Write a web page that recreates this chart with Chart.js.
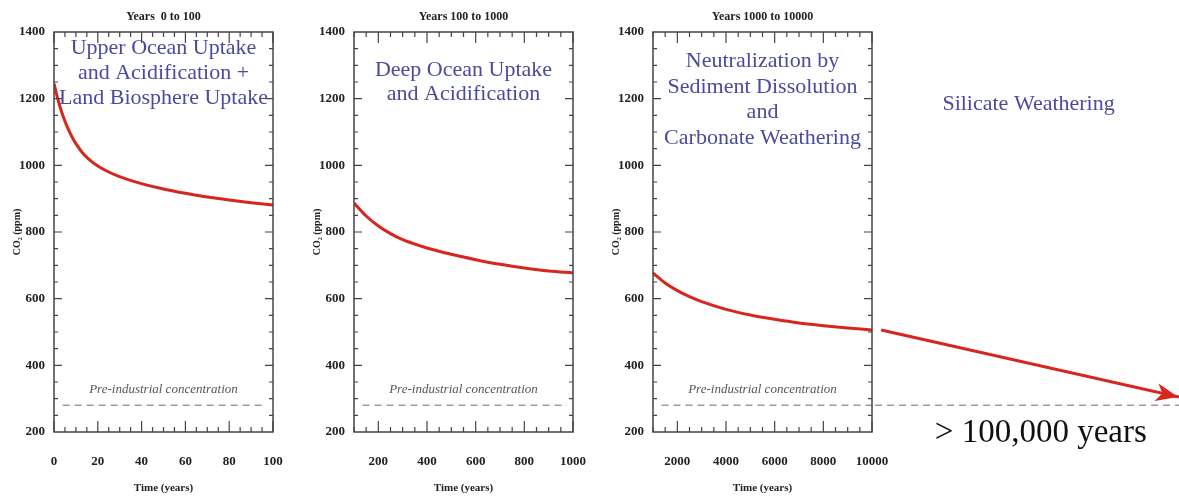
<!DOCTYPE html>
<html lang="en">
<head>
<meta charset="UTF-8">
<title>CO2 recovery timescales</title>
<script src="https://cdn.jsdelivr.net/npm/chart.js"></script>
<style>
    body { margin: 0; background: #fff; }
    #wrap { position: relative; width: 1179px; height: 496px; overflow: hidden; }
    canvas { position: absolute; top: 0; }
</style>
</head>
<body>
<div id="wrap">
    <canvas id="panel1" width="300" height="496" style="left:0px"></canvas>
    <canvas id="panel2" width="300" height="496" style="left:300px"></canvas>
    <canvas id="panel3" width="300" height="496" style="left:599px"></canvas>
    <canvas id="panel4" width="307" height="496" style="left:872px"></canvas>
</div>
<script>
    // values (ppm)
    const years1 = [0, 1, 2, 3, 4, 6, 8, 10, 13, 16, 20, 25, 30, 40, 50, 60, 70, 80, 90, 100];
    const co2_1 = [1245, 1218, 1193, 1170, 1150, 1116, 1088, 1065, 1038, 1018, 998, 980, 966, 945, 929, 916, 905, 896, 888, 881];

    const years2 = [100, 150, 200, 250, 300, 400, 500, 600, 700, 800, 900, 1000];
    const co2_2 = [887, 848, 818, 795, 777, 752, 733, 717, 703, 692, 683, 677];

    const years3 = [1000, 1500, 2000, 2500, 3000, 4000, 5000, 6000, 7000, 8000, 9000, 10000];
    const co2_3 = [677, 647, 624, 606, 591, 568, 551, 538, 527, 519, 512, 506];

    // schematic long tail (arbitrary x units)
    const arrowX = [3, 100];
    const arrowCO2 = [506, 305];

    const preIndustrial = 280;
    const preSpan1 = [4, 97];
    const preSpan2 = [135, 975];
    const preSpan3 = [1350, 10000];
    const preSpan4 = [1, 100];

    const yTicks = [200, 400, 600, 800, 1000, 1200, 1400];
    const xTicks1 = [0, 20, 40, 60, 80, 100];
    const xTicks2 = [200, 400, 600, 800, 1000];
    const xTicks3 = [2000, 4000, 6000, 8000, 10000];

    const titles = ['Years  0 to 100', 'Years 100 to 1000', 'Years 1000 to 10000'];
    const notes1 = ['Upper Ocean Uptake', 'and Acidification +', 'Land Biosphere Uptake'];
    const notes2 = ['Deep Ocean Uptake', 'and Acidification'];
    const notes3 = ['Neutralization by', 'Sediment Dissolution', 'and', 'Carbonate Weathering'];
    const notes4 = ['Silicate Weathering'];
    const preLabel = 'Pre-industrial concentration';
    const tailLabel = '> 100,000 years';

    const serif = '"Liberation Serif", "Times New Roman", serif';
    const red = '#d6261d';
    const blue = '#4a4a9e';
    const ink = '#222';

    const framePlugin = {
        id: 'frame',
        afterDatasetsDraw(chart, args, opts) {
            const {ctx, chartArea: a, scales: {x, y}} = chart;
            ctx.save();
            ctx.strokeStyle = '#444';
            ctx.lineWidth = 1.5;
            ctx.strokeRect(a.left, a.top, a.right - a.left, a.bottom - a.top);
            ctx.lineWidth = 1.2;
            ctx.beginPath();
            for (let v = Math.ceil(x.min / opts.minorX) * opts.minorX; v <= x.max; v += opts.minorX) {
                const px = x.getPixelForValue(v);
                const len = v % opts.majorX === 0 ? 11 : 5;
                ctx.moveTo(px, a.bottom); ctx.lineTo(px, a.bottom - len);
                ctx.moveTo(px, a.top); ctx.lineTo(px, a.top + len);
            }
            for (let v = 250; v < 1400; v += 50) {
                const py = y.getPixelForValue(v);
                const len = v % 200 === 0 ? 8 : 4;
                ctx.moveTo(a.left, py); ctx.lineTo(a.left + len, py);
                ctx.moveTo(a.right, py); ctx.lineTo(a.right - len, py);
            }
            ctx.stroke();
            ctx.restore();
        }
    };

    const notesPlugin = {
        id: 'notes',
        afterDraw(chart, args, opts) {
            const {ctx, scales: {x, y}} = chart;
            ctx.save();
            ctx.textAlign = 'center';
            ctx.textBaseline = 'alphabetic';
            opts.items.forEach(it => {
                ctx.font = it.font;
                ctx.fillStyle = it.color;
                const cx = x.getPixelForValue(it.x);
                it.lines.forEach((t, i) => {
                    ctx.fillText(t, cx, y.getPixelForValue(it.y) + i * it.step);
                });
            });
            ctx.restore();
        }
    };

    const arrowPlugin = {
        id: 'arrowHead',
        afterDatasetsDraw(chart) {
            const pts = chart.getDatasetMeta(0).data;
            if (pts.length < 2) return;
            const p0 = pts[pts.length - 2], p1 = pts[pts.length - 1];
            const ang = Math.atan2(p1.y - p0.y, p1.x - p0.x);
            const ctx = chart.ctx;
            ctx.save();
            ctx.translate(p1.x - 1, p1.y);
            ctx.rotate(ang);
            ctx.fillStyle = red;
            ctx.beginPath();
            ctx.moveTo(0, 0);
            ctx.lineTo(-22, -9);
            ctx.lineTo(-16, 0);
            ctx.lineTo(-22, 9);
            ctx.closePath();
            ctx.fill();
            ctx.restore();
        }
    };

    function toPoints(xs, ys) {
        return xs.map((v, i) => ({x: v, y: ys[i]}));
    }

    function panel(id, p) {
        const mid = (p.min + p.max) / 2;
        new Chart(document.getElementById(id), {
            type: 'line',
            data: {
                datasets: [{
                    data: toPoints(p.years, p.co2),
                    borderColor: red,
                    borderWidth: 3,
                    pointRadius: 0,
                    cubicInterpolationMode: 'monotone'
                }, {
                    data: toPoints(p.preSpan, [preIndustrial, preIndustrial]),
                    borderColor: '#9c9c9c',
                    borderWidth: 1.5,
                    borderDash: [7, 5],
                    pointRadius: 0
                }]
            },
            options: {
                responsive: false,
                animation: false,
                layout: {padding: {left: 0, right: 27, top: 32, bottom: 0}},
                plugins: {
                    legend: {display: false},
                    tooltip: {enabled: false},
                    frame: {minorX: p.minorX, majorX: p.majorX},
                    notes: {items: [
                        {lines: [p.title], x: mid, y: 1436, step: 0,
                         font: 'bold 12px ' + serif, color: ink},
                        {lines: p.notes, x: mid, y: p.noteY, step: p.step,
                         font: '22px ' + serif, color: blue},
                        {lines: [preLabel], x: mid, y: 317, step: 0,
                         font: 'italic 13px ' + serif, color: '#555'}
                    ]}
                },
                scales: {
                    x: {
                        type: 'linear', min: p.min, max: p.max,
                        grid: {display: false, drawTicks: false},
                        border: {display: false},
                        afterBuildTicks: s => { s.ticks = p.xTicks.map(v => ({value: v})); },
                        afterFit: s => { s.height = 64; s.paddingLeft = 0; s.paddingRight = 0; },
                        ticks: {padding: 22, color: ink, maxRotation: 0, autoSkip: false,
                                callback: v => String(v),
                                font: {family: serif, size: 13, weight: 'bold'}},
                        title: {display: true, text: 'Time (years)', color: ink,
                                font: {family: serif, size: 11, weight: 'bold'},
                                padding: {top: 0, bottom: 1}}
                    },
                    y: {
                        min: 200, max: 1400,
                        grid: {display: false, drawTicks: false},
                        border: {display: false},
                        afterBuildTicks: s => { s.ticks = yTicks.map(v => ({value: v})); },
                        afterFit: s => { s.width = 54; s.paddingTop = 0; s.paddingBottom = 0; },
                        ticks: {padding: 9, color: ink, callback: v => String(v),
                                font: {family: serif, size: 13, weight: 'bold'}},
                        title: {display: true, text: 'CO₂ (ppm)', color: ink,
                                font: {family: serif, size: 10, weight: 'bold'},
                                padding: {top: 11, bottom: 0}}
                    }
                }
            },
            plugins: [framePlugin, notesPlugin]
        });
    }

    panel('panel1', {years: years1, co2: co2_1, preSpan: preSpan1, min: 0, max: 100,
        xTicks: xTicks1, minorX: 5, majorX: 20, title: titles[0],
        notes: notes1, noteY: 1334, step: 25});
    panel('panel2', {years: years2, co2: co2_2, preSpan: preSpan2, min: 100, max: 1000,
        xTicks: xTicks2, minorX: 50, majorX: 200, title: titles[1],
        notes: notes2, noteY: 1268, step: 24});
    panel('panel3', {years: years3, co2: co2_3, preSpan: preSpan3, min: 1000, max: 10000,
        xTicks: xTicks3, minorX: 500, majorX: 2000, title: titles[2],
        notes: notes3, noteY: 1295, step: 25.5});

    // long-term tail beyond 10000 years
    new Chart(document.getElementById('panel4'), {
        type: 'line',
        data: {
            datasets: [{
                data: toPoints(arrowX, arrowCO2),
                borderColor: red,
                borderWidth: 3,
                pointRadius: 0
            }, {
                data: toPoints(preSpan4, [preIndustrial, preIndustrial]),
                borderColor: '#9c9c9c',
                borderWidth: 1.5,
                borderDash: [7, 5],
                pointRadius: 0
            }]
        },
        options: {
            responsive: false,
            animation: false,
            layout: {padding: {left: 0, right: 0, top: 32, bottom: 64}},
            plugins: {
                legend: {display: false},
                tooltip: {enabled: false},
                notes: {items: [
                    {lines: notes4, x: 51, y: 1166, step: 0, font: '22px ' + serif, color: blue},
                    {lines: [tailLabel], x: 55, y: 170, step: 0, font: '33px ' + serif, color: '#111'}
                ]}
            },
            scales: {
                x: {type: 'linear', min: 0, max: 100, display: false},
                y: {min: 200, max: 1400, display: false}
            }
        },
        plugins: [notesPlugin, arrowPlugin]
    });
</script>
</body>
</html>
